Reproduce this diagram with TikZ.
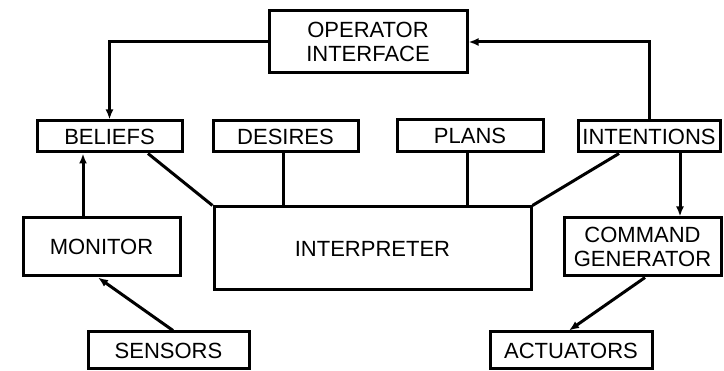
\documentclass[tikz,border=0pt]{standalone}
\usepackage{fontspec}
\setmainfont{Liberation Sans}
\usetikzlibrary{arrows.meta}
\begin{document}
\begin{tikzpicture}[x=1pt,y=-1pt,
  box/.style={draw, line width=3pt, inner sep=0pt, align=center,
    font=\fontsize{22}{24}\selectfont},
  conn/.style={line width=3pt},
  arr/.style={line width=3pt, -{Latex[length=10pt,width=8pt]}}]
\useasboundingbox (0,0) rectangle (724,371);
\node[box, minimum width=198pt, minimum height=62pt] (oi) at (368,42) {OPERATOR\\INTERFACE};
\node[box, minimum width=145pt, minimum height=31pt] (beliefs) at (109.5,136.5) {BELIEFS};
\node[box, minimum width=145pt, minimum height=31pt] (desires) at (285.5,136.5) {DESIRES};
\node[box, minimum width=146pt, minimum height=32pt] (plans) at (470,135.5) {PLANS};
\node[box, minimum width=142pt, minimum height=31pt] (intentions) at (649,136.5) {INTENTIONS};
\node[box, minimum width=317pt, minimum height=83pt] (interp) at (372.5,248.5) {INTERPRETER};
\node[box, minimum width=157pt, minimum height=58pt] (monitor) at (101.5,247) {MONITOR};
\node[box, minimum width=157pt, minimum height=58pt] (cmd) at (642.5,247) {COMMAND\\GENERATOR};
\node[box, minimum width=161pt, minimum height=37pt] (sensors) at (168.5,350.5) {SENSORS};
\node[box, minimum width=162pt, minimum height=37pt] (actuators) at (571,350.5) {ACTUATORS};
% connectors
\draw[arr] (oi.west) -| (beliefs.north);
\draw[arr] (intentions.north) |- (oi.east);
\draw[conn] ([xshift=38.5pt]beliefs.south) -- (interp.north west);
\draw[conn] ([xshift=-2.5pt]desires.south) -- ([xshift=-2.5pt]desires.south |- interp.north);
\draw[conn] ([xshift=-3pt]plans.south) -- ([xshift=-3pt]plans.south |- interp.north);
\draw[conn] ([xshift=-30pt]intentions.south) -- (interp.north east);
\draw[arr] ([xshift=31pt]intentions.south) -- ([xshift=31pt]intentions.south |- cmd.north);
\draw[arr] ([xshift=-18.5pt]monitor.north) -- ([xshift=-18.5pt]monitor.north |- beliefs.south);
\draw[arr] ([xshift=4.5pt]sensors.north) -- ([xshift=-3.5pt]monitor.south);
\draw[arr] ([xshift=2.5pt]cmd.south) -- ([xshift=-2pt]actuators.north);
\end{tikzpicture}
\end{document}
